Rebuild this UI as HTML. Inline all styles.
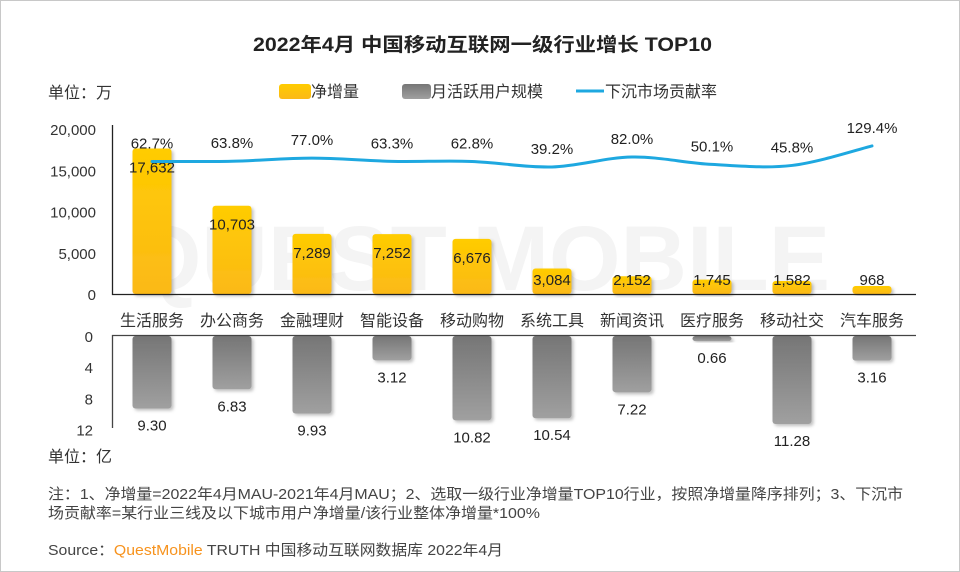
<!DOCTYPE html>
<html><head><meta charset="utf-8"><style>
html,body{margin:0;padding:0;background:#fff}
body{width:960px;height:572px;overflow:hidden;font-family:"Liberation Sans","Noto Sans CJK SC",sans-serif}
#frame{position:absolute;left:0;top:0;width:958px;height:570px;border:1px solid #c8c8c8}
</style></head><body>
<div id="frame"></div>
<svg id="chart" width="960" height="572" style="position:absolute;left:0;top:0" font-family="Liberation Sans, Noto Sans CJK SC, sans-serif">
<defs>
<linearGradient id="gy" x1="0" y1="0" x2="0" y2="1"><stop offset="0" stop-color="#ffcc00"/><stop offset="1" stop-color="#fbb918"/></linearGradient>
<linearGradient id="gg" x1="0" y1="0" x2="0" y2="1"><stop offset="0" stop-color="#767676"/><stop offset="1" stop-color="#a0a0a0"/></linearGradient>
<filter id="sh" x="-20%" y="-10%" width="150%" height="130%"><feDropShadow dx="2" dy="2" stdDeviation="1.5" flood-color="#000" flood-opacity="0.25"/></filter>
</defs>
<text x="253" y="51" textLength="459" lengthAdjust="spacingAndGlyphs" font-size="19" font-weight="bold" fill="#222">2022年4月 中国移动互联网一级行业增长 TOP10</text>
<text x="480" y="290" text-anchor="middle" font-size="92" font-weight="bold" fill="#f4f4f4">QUEST MOBILE</text>
<text x="48" y="98" font-size="16" fill="#333">单位：万</text>
<text x="48" y="462" font-size="16" fill="#333">单位：亿</text>
<g>
<rect x="279" y="84" width="32" height="15" rx="3" fill="url(#gy)"/>
<text x="311" y="97" font-size="16" fill="#333">净增量</text>
<rect x="402" y="84" width="29" height="15" rx="3" fill="url(#gg)"/>
<text x="431" y="97" font-size="16" fill="#333">月活跃用户规模</text>
<line x1="576" y1="91" x2="604" y2="91" stroke="#1ea8e0" stroke-width="3"/>
<text x="605" y="97" font-size="16" fill="#333">下沉市场贡献率</text>
</g>
<g id="plot"></g>
<text x="48" y="499" textLength="855" lengthAdjust="spacingAndGlyphs" font-size="15" fill="#444">注：1、净增量=2022年4月MAU-2021年4月MAU；2、选取一级行业净增量TOP10行业，按照净增量降序排列；3、下沉市</text>
<text x="48" y="518" textLength="492" lengthAdjust="spacingAndGlyphs" font-size="15" fill="#444">场贡献率=某行业三线及以下城市用户净增量/该行业整体净增量*100%</text>
<text x="48" y="555" textLength="455" lengthAdjust="spacingAndGlyphs" font-size="15" fill="#444">Source：<tspan fill="#f7931e">QuestMobile</tspan> TRUTH 中国移动互联网数据库 2022年4月</text>
</svg>
<script>
const categories=["生活服务","办公商务","金融理财","智能设备","移动购物","系统工具","新闻资讯","医疗服务","移动社交","汽车服务"];
const netGrowth=[17632,10703,7289,7252,6676,3084,2152,1745,1582,968];
const mau=[9.30,6.83,9.93,3.12,10.82,10.54,7.22,0.66,11.28,3.16];
const rate=[62.7,63.8,77.0,63.3,62.8,39.2,82.0,50.1,45.8,129.4];
const topTicks=[0,5000,10000,15000,20000];
const bottomTicks=[0,4,8,12];

const NS="http://www.w3.org/2000/svg";
const plot=document.getElementById('plot');
function mk(tag,attrs,txt){const e=document.createElementNS(NS,tag);for(const k in attrs)e.setAttribute(k,attrs[k]);if(txt!==undefined)e.textContent=txt;plot.appendChild(e);return e;}
const xC=i=>152+i*80;
const yTop=v=>294-v*165/20000;
const yBot=v=>336+v*7.8;
const yRate=v=>176.1-v*0.233;
const fmt=v=>v.toLocaleString('en-US');

topTicks.forEach(t=>{const e=mk('text',{x:96,y:yTop(t)+6,'text-anchor':'end','font-size':15,fill:'#333'},fmt(t));

});
bottomTicks.forEach(t=>{const e=mk('text',{x:93,y:yBot(t)+6,'text-anchor':'end','font-size':15,fill:'#333'},String(t));

});

categories.forEach((c,i)=>{
const x=xC(i);
const t=yTop(netGrowth[i]);
const b=mk('rect',{x:x-19.5,y:t,width:39,height:294-t,rx:3,fill:'url(#gy)',filter:'url(#sh)'});


const l=mk('text',{x:x,y:Math.min(t+24,285),'text-anchor':'middle','font-size':15,fill:'#222'},fmt(netGrowth[i]));


const bb=yBot(mau[i]);
const g=mk('rect',{x:x-19.5,y:336,width:39,height:bb-336,rx:3,fill:'url(#gg)',filter:'url(#sh)'});


const gl=mk('text',{x:x,y:bb+22,'text-anchor':'middle','font-size':15,fill:'#222'},mau[i].toFixed(2));


const cl=mk('text',{x:x,y:326,'text-anchor':'middle','font-size':16,fill:'#333'},c);


const rl=mk('text',{x:x,y:yRate(rate[i])-13,'text-anchor':'middle','font-size':15,fill:'#222'},rate[i].toFixed(1)+'%');


});

const ax1=mk('path',{d:'M112.5 125 V294.5 H916',stroke:'#222','stroke-width':1.3,fill:'none'});


const ax2=mk('path',{d:'M112.5 428 V335.5 H916',stroke:'#444','stroke-width':1.3,fill:'none'});



const pts=rate.map((v,i)=>[xC(i),yRate(v)]);
let d='M'+pts[0][0]+' '+pts[0][1];
for(let i=0;i<pts.length-1;i++){
const p0=pts[Math.max(0,i-1)],p1=pts[i],p2=pts[i+1],p3=pts[Math.min(pts.length-1,i+2)];
const c1=[p1[0]+(p2[0]-p0[0])/6,p1[1]+(p2[1]-p0[1])/6];
const c2=[p2[0]-(p3[0]-p1[0])/6,p2[1]-(p3[1]-p1[1])/6];
d+=` C${c1[0]} ${c1[1]} ${c2[0]} ${c2[1]} ${p2[0]} ${p2[1]}`;
}
const ln=mk('path',{d:d,stroke:'#1ea8e0','stroke-width':3,fill:'none','stroke-linecap':'round'});


</script>
</body></html>
